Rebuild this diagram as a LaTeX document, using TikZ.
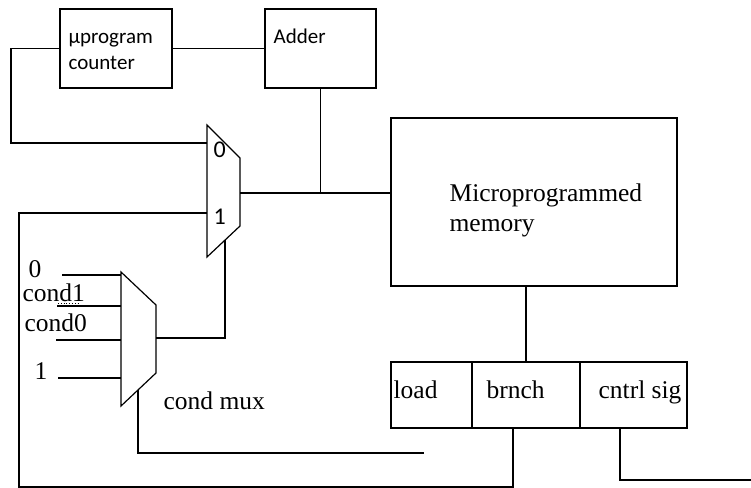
\documentclass[tikz,border=0pt]{standalone}
\usepackage{fontspec}
\setmainfont{Liberation Serif}
\newfontfamily\calib{Carlito}
\begin{document}
\begin{tikzpicture}[x=1bp,y=-1bp,line width=1.2bp,
  blk/.style={draw,rectangle,inner sep=0pt,outer sep=0pt},
  sanstxt/.style={inner sep=0pt,anchor=base west,font=\calib\fontsize{21bp}{26bp}\selectfont,align=left},
  seriftxt/.style={inner sep=0pt,anchor=base west,font=\fontsize{25.5bp}{30bp}\selectfont,align=left},
  digit/.style={inner sep=0pt,anchor=base west,font=\calib\fontsize{24bp}{28bp}\selectfont}]
\useasboundingbox (0,0) rectangle (751,488);

% blocks
\node[blk,minimum width=112bp,minimum height=79bp] (cnt) at (116,48.5) {};
\node[blk,minimum width=111bp,minimum height=79bp] (add) at (320.5,48.5) {};
\node[blk,minimum width=286bp,minimum height=168bp] (mem) at (534,202) {};
\node[blk,minimum width=81bp,minimum height=66bp] (ld) at (431.5,395) {};
\node[blk,minimum width=108bp,minimum height=66bp] (brn) at (526,395) {};
\node[blk,minimum width=107bp,minimum height=66bp] (ctl) at (633.5,395) {};

% block texts (base anchor sits on the last line)
\node[sanstxt] (cntT) at (68,70) {µprogram\\counter};
\node[sanstxt] (addT) at (273,44) {Adder};
\node[seriftxt] (memT) at (449,232) {Microprogrammed\\memory};
\node[seriftxt] (ldT) at (393,398) {load};
\node[seriftxt] (brnT) at (486,398) {brnch};
\node[seriftxt] (ctlT) at (598,398) {cntrl sig};

% next-address mux
\draw (207,125) -- (240,158) -- (240,226) -- (207,257) -- cycle;
\coordinate (m1in0) at (207,143);
\coordinate (m1in1) at (207,213);
\coordinate (m1out) at (240,193);
\coordinate (m1sel) at (225,240);
\node[digit] (m1l0) at (213,158) {0};
\node[digit] (m1l1) at (213,225) {1};

% condition mux
\draw (121,272) -- (156,305) -- (156,373) -- (121,406) -- cycle;
\coordinate (c0) at (121,275);
\coordinate (c1) at (121,306);
\coordinate (c2) at (121,340);
\coordinate (c3) at (121,378);
\coordinate (cout) at (156,338);
\coordinate (csel) at (138,390);
\coordinate (s0) at (62,275);
\coordinate (s1) at (57,306);
\coordinate (s2) at (56,340);
\coordinate (s3) at (58,378);
\node[seriftxt] (t0) at (28,278) {0};
\node[seriftxt] (t1) at (22,301) {cond1};
\node[seriftxt] (t2) at (24,331) {cond0};
\node[seriftxt] (t3) at (34,379) {1};
\node[seriftxt] (tmux) at (163,409) {cond mux};

% wiring
\draw (cnt.west) -- ++(-49,0) |- (m1in0);
\draw (cnt.east) -- (cnt.east -| add.west);
\draw (add.south) -- (add.south |- m1out);
\draw (m1out) -- (m1out -| mem.west);
\draw (brn.north) -- (brn.north |- mem.south);
\draw (s0) -- (c0);
\draw (s1) -- (c1);
\draw (s2) -- (c2);
\draw (s3) -- (c3);
\draw[line width=0.8bp,dotted] (58,303) -- (80,303);
\draw (m1sel) -- (m1sel |- cout) -- (cout);
\coordinate (cend) at (424,453);
\draw (csel) |- (cend);
\coordinate (btap) at (513,428);
\coordinate (bcorner) at (19,487);
\draw (btap) -- (btap |- bcorner) -- (bcorner) |- (m1in1);
\coordinate (ctap) at (620,428);
\coordinate (cexit) at (751,480);
\draw (ctap) |- (cexit);
\end{tikzpicture}
\end{document}
